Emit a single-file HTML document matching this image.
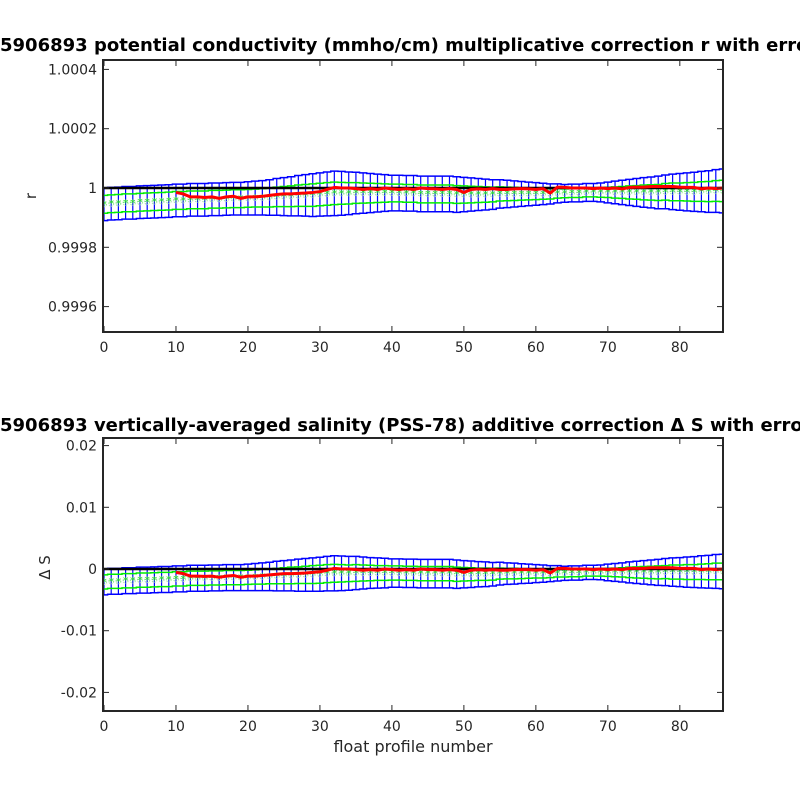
<!DOCTYPE html>
<html><head><meta charset="utf-8"><style>
body{margin:0;background:#fff;overflow:hidden;}
svg text{font-family:"DejaVu Sans","Liberation Sans",sans-serif;fill:#262626;}
</style></head><body>
<svg id="chart" width="800" height="800" xmlns="http://www.w3.org/2000/svg"></svg>
<script>
// Top panel (r - 1, units of 1e-4)
const profiles = Array.from({length:87},(_, i)=>i);
const rCenter = [-0.55,-0.53,-0.52,-0.5,-0.5,-0.48,-0.47,-0.46,-0.45,-0.44,
-0.42,-0.42,-0.4,-0.4,-0.4,-0.38,-0.38,-0.37,-0.36,-0.36,
-0.35,-0.34,-0.33,-0.32,-0.3,-0.29,-0.28,-0.26,-0.25,-0.24,
-0.22,-0.2,-0.18,-0.18,-0.18,-0.17,-0.17,-0.17,-0.17,-0.17,
-0.17,-0.17,-0.18,-0.18,-0.2,-0.2,-0.2,-0.2,-0.2,-0.22,
-0.22,-0.22,-0.22,-0.22,-0.22,-0.2,-0.2,-0.2,-0.2,-0.2,
-0.2,-0.2,-0.2,-0.18,-0.18,-0.17,-0.17,-0.15,-0.15,-0.15,
-0.15,-0.15,-0.15,-0.15,-0.15,-0.15,-0.15,-0.15,-0.13,-0.13,
-0.13,-0.13,-0.13,-0.12,-0.12,-0.1,-0.1];
const rBlueErr = [0.55,0.55,0.55,0.55,0.55,0.55,0.55,0.55,0.55,0.55,
0.55,0.55,0.55,0.55,0.55,0.55,0.55,0.55,0.55,0.55,
0.56,0.57,0.58,0.6,0.62,0.64,0.66,0.68,0.7,0.72,
0.73,0.74,0.75,0.74,0.72,0.7,0.68,0.66,0.64,0.62,
0.6,0.6,0.6,0.6,0.6,0.6,0.6,0.6,0.6,0.6,
0.58,0.56,0.54,0.52,0.5,0.48,0.46,0.44,0.42,0.4,
0.38,0.36,0.34,0.32,0.3,0.3,0.3,0.3,0.3,0.32,
0.35,0.38,0.41,0.44,0.47,0.5,0.52,0.55,0.57,0.6,
0.62,0.64,0.66,0.68,0.7,0.72,0.74];
const rGreenErr = [0.3,0.3,0.3,0.3,0.3,0.3,0.3,0.3,0.3,0.3,
0.3,0.3,0.3,0.3,0.3,0.3,0.3,0.3,0.3,0.3,
0.3,0.3,0.31,0.32,0.33,0.34,0.35,0.36,0.37,0.38,
0.38,0.38,0.38,0.37,0.36,0.35,0.34,0.33,0.32,0.31,
0.3,0.3,0.3,0.3,0.3,0.3,0.3,0.3,0.3,0.3,
0.29,0.28,0.27,0.26,0.25,0.24,0.23,0.22,0.21,0.2,
0.19,0.18,0.17,0.16,0.15,0.15,0.15,0.15,0.15,0.16,
0.17,0.19,0.2,0.22,0.23,0.25,0.26,0.27,0.28,0.3,
0.3,0.31,0.32,0.33,0.34,0.35,0.36];
const rRed = [null,null,null,null,null,null,null,null,null,null,
-0.15,-0.2,-0.3,-0.3,-0.32,-0.3,-0.35,-0.3,-0.28,-0.35,
-0.3,-0.3,-0.28,-0.25,-0.22,-0.2,-0.2,-0.18,-0.17,-0.15,
-0.12,-0.05,0.02,0,0,-0.02,-0.05,-0.02,-0.05,0,
-0.03,-0.05,-0.02,-0.05,0,-0.02,-0.03,-0.05,-0.02,-0.05,
-0.15,-0.05,-0.03,-0.05,-0.02,-0.05,-0.05,-0.03,-0.02,-0.03,
-0.05,-0.02,-0.17,0.03,0.02,0,0,0,-0.02,0,
-0.02,0,-0.03,0.02,0.03,0.03,0.05,0.05,0.05,0.05,
0.03,0.02,0.02,-0.03,0,-0.02,0];
const rTicks = [1.0004,1.0002,1,0.9998,0.9996];
const rTickLabels = ["1.0004","1.0002","1","0.9998","0.9996"];

// Bottom panel (delta S, units of 1e-3)
const sCenter = [-2.1,-2.0,-2.0,-1.9,-1.9,-1.8,-1.8,-1.75,-1.7,-1.7,
-1.6,-1.6,-1.5,-1.5,-1.5,-1.45,-1.45,-1.4,-1.4,-1.4,
-1.35,-1.3,-1.25,-1.2,-1.15,-1.1,-1.05,-1.0,-0.95,-0.9,
-0.85,-0.75,-0.7,-0.7,-0.7,-0.65,-0.65,-0.65,-0.65,-0.65,
-0.65,-0.65,-0.7,-0.7,-0.75,-0.75,-0.75,-0.75,-0.75,-0.85,
-0.85,-0.85,-0.85,-0.85,-0.85,-0.75,-0.75,-0.75,-0.75,-0.75,
-0.75,-0.75,-0.75,-0.7,-0.7,-0.65,-0.65,-0.55,-0.55,-0.55,
-0.55,-0.55,-0.55,-0.55,-0.55,-0.55,-0.55,-0.55,-0.5,-0.5,
-0.5,-0.5,-0.5,-0.45,-0.45,-0.4,-0.4];
const sBlueErr = [2.1,2.1,2.1,2.1,2.1,2.1,2.1,2.1,2.1,2.1,
2.1,2.1,2.1,2.1,2.1,2.1,2.1,2.1,2.1,2.1,
2.15,2.2,2.25,2.3,2.4,2.45,2.5,2.6,2.65,2.7,
2.75,2.8,2.85,2.8,2.75,2.7,2.6,2.5,2.45,2.4,
2.3,2.3,2.3,2.3,2.3,2.3,2.3,2.3,2.3,2.3,
2.2,2.15,2.05,2.0,1.9,1.85,1.75,1.7,1.6,1.55,
1.45,1.4,1.3,1.25,1.15,1.15,1.15,1.15,1.15,1.2,
1.35,1.45,1.55,1.7,1.8,1.9,2.0,2.1,2.2,2.3,
2.35,2.45,2.5,2.6,2.65,2.75,2.8];
const sGreenErr = [1.15,1.15,1.15,1.15,1.15,1.15,1.15,1.15,1.15,1.15,
1.15,1.15,1.15,1.15,1.15,1.15,1.15,1.15,1.15,1.15,
1.15,1.15,1.2,1.2,1.25,1.3,1.35,1.35,1.4,1.45,
1.45,1.45,1.45,1.4,1.35,1.35,1.3,1.25,1.2,1.2,
1.15,1.15,1.15,1.15,1.15,1.15,1.15,1.15,1.15,1.15,
1.1,1.05,1.0,1.0,0.95,0.9,0.85,0.85,0.8,0.75,
0.7,0.7,0.65,0.6,0.6,0.6,0.6,0.6,0.6,0.6,
0.65,0.7,0.75,0.85,0.9,0.95,1.0,1.05,1.05,1.15,
1.15,1.2,1.2,1.25,1.3,1.35,1.35];
const sRed = [null,null,null,null,null,null,null,null,null,null,
-0.55,-0.75,-1.15,-1.15,-1.2,-1.15,-1.35,-1.15,-1.05,-1.35,
-1.15,-1.15,-1.05,-0.95,-0.85,-0.75,-0.75,-0.7,-0.65,-0.55,
-0.45,-0.2,0.1,0,0,-0.1,-0.2,-0.1,-0.2,0,
-0.1,-0.2,-0.1,-0.2,0,-0.1,-0.1,-0.2,-0.1,-0.2,
-0.55,-0.2,-0.1,-0.2,-0.1,-0.2,-0.2,-0.1,-0.1,-0.1,
-0.2,-0.1,-0.65,0.1,0.1,0,0,0,-0.1,0,
-0.1,0,-0.1,0.1,0.1,0.1,0.2,0.2,0.2,0.2,
0.1,0.1,0.1,-0.1,0,-0.1,0];
const sTicks = [0.02,0.01,0,-0.01,-0.02];
const sTickLabels = ["0.02","0.01","0","-0.01","-0.02"];
const xTicks = [0,10,20,30,40,50,60,70,80];

const NS="http://www.w3.org/2000/svg";
const svg=document.getElementById('chart');
function mk(tag,attrs,parent){const e=document.createElementNS(NS,tag);for(const k in attrs)e.setAttribute(k,attrs[k]);(parent||svg).appendChild(e);return e;}

function panel(cfg){
  const g=mk('g',{});
  
  
  const L=103,R=723,T=cfg.top,B=cfg.bottom;
  const xs=v=>L+1+(v-0)*(R-L-1)/86;
  const yv=val=>cfg.y0px - (val - cfg.base)/cfg.tickStep*cfg.tickPx;
  const yd=v=>yv(cfg.base + v*cfg.unit);
  const clip=mk('clipPath',{id:cfg.name+'-clip'},g);
  mk('rect',{x:L,y:T,width:R-L,height:B-T},clip);
  const pg=mk('g',{'clip-path':'url(#'+cfg.name+'-clip)'},g);
  function band(errArr,color,bars,name){
    let up='',lo='';
    profiles.forEach((p,i)=>{
      const c=cfg.center[i],e=errArr[i];
      const x0=xs(p-0.5),x1=xs(p+0.5);
      up+=(i?'L':'M')+x0+' '+yd(c+e)+'L'+x1+' '+yd(c+e);
      lo+=(i?'L':'M')+x0+' '+yd(c-e)+'L'+x1+' '+yd(c-e);
      if(bars){const b=mk('line',{x1:xs(p),x2:xs(p),y1:yd(c-e),y2:yd(c+e),stroke:color,'stroke-width':1.2},pg);
        
        }
    });
    const u=mk('path',{d:up,fill:'none',stroke:color,'stroke-width':1.5},pg);
    
    
    const l=mk('path',{d:lo,fill:'none',stroke:color,'stroke-width':1.5},pg);
    
    
  }
  band(cfg.blue,'#0000ff',true,'blue-error');
  band(cfg.green,'#00ee00',false,'green-error');
  profiles.forEach((p,i)=>{
    const c=mk('circle',{cx:xs(p),cy:yd(cfg.center[i]),r:2.5,fill:'none',stroke:'#9cf09c','stroke-width':1,'stroke-dasharray':'1.5 1'},pg);
    
    
    const s=mk('text',{x:xs(p),y:yd(cfg.center[i])+4,'text-anchor':'middle','font-size':11,style:'fill:#22dd22'},pg);
    s.textContent='*';
    
    
  });
  const z=mk('line',{x1:xs(0),x2:xs(86),y1:yv(cfg.base),y2:yv(cfg.base),stroke:'#000','stroke-width':2.5},pg);
  
  
  let d='';let started=false;
  profiles.forEach((p,i)=>{const v=cfg.red[i];if(v===null){started=false;return;}d+=(started?'L':'M')+xs(p)+' '+yd(v);started=true;});
  const rl=mk('path',{d:d,fill:'none',stroke:'#ff0000','stroke-width':3,'stroke-linejoin':'round'},pg);
  
  
  const box=mk('rect',{x:L,y:T,width:R-L,height:B-T,fill:'none',stroke:'#262626','stroke-width':2},g);
  
  
  cfg.ticks.forEach((t,i)=>{
    const y=yv(t);
    mk('line',{x1:L,x2:L+6,y1:y,y2:y,stroke:'#262626','stroke-width':1},g);
    mk('line',{x1:R-6,x2:R,y1:y,y2:y,stroke:'#262626','stroke-width':1},g);
    const tl=mk('text',{x:L-6,y:y+5,'text-anchor':'end','font-size':14},g);
    tl.textContent=cfg.labels[i];
    
    
  });
  xTicks.forEach(t=>{
    const x=xs(t);
    mk('line',{x1:x,x2:x,y1:B,y2:B-6,stroke:'#262626','stroke-width':1},g);
    mk('line',{x1:x,x2:x,y1:T,y2:T+6,stroke:'#262626','stroke-width':1},g);
    const tl=mk('text',{x:x,y:B+20,'text-anchor':'middle','font-size':14},g);
    tl.textContent=String(t);
    
    
  });
  const ti=mk('text',{x:0,y:cfg.titleY,'font-size':18,'font-weight':'bold',style:'fill:#000'},g);
  ti.textContent=cfg.title;
  
  
  const yl=mk('text',{x:0,y:0,'text-anchor':'middle','font-size':15,transform:'translate('+cfg.ylx+','+((T+B)/2+(cfg.yly||0))+') rotate(-90)'},g);
  yl.textContent=cfg.ylabel;
  
  
}

panel({name:'conductivity-panel',top:60,bottom:332,center:rCenter,blue:rBlueErr,green:rGreenErr,red:rRed,
  base:1,unit:0.0001,y0px:188,tickStep:0.0002,tickPx:59.3,ticks:rTicks,labels:rTickLabels,
  title:'5906893 potential conductivity (mmho/cm) multiplicative correction r with error',titleY:51,ylabel:'r',ylx:36,yly:0});
panel({name:'salinity-panel',top:438,bottom:711,center:sCenter,blue:sBlueErr,green:sGreenErr,red:sRed,
  base:0,unit:0.001,y0px:569,tickStep:0.01,tickPx:61.7,ticks:sTicks,labels:sTickLabels,
  title:'5906893 vertically-averaged salinity (PSS-78) additive correction \u0394 S with error',titleY:431,ylabel:'\u0394 S',ylx:50,yly:-7});
const xl=mk('text',{x:413,y:752,'text-anchor':'middle','font-size':16});
xl.textContent='float profile number';


</script>
</body></html>
